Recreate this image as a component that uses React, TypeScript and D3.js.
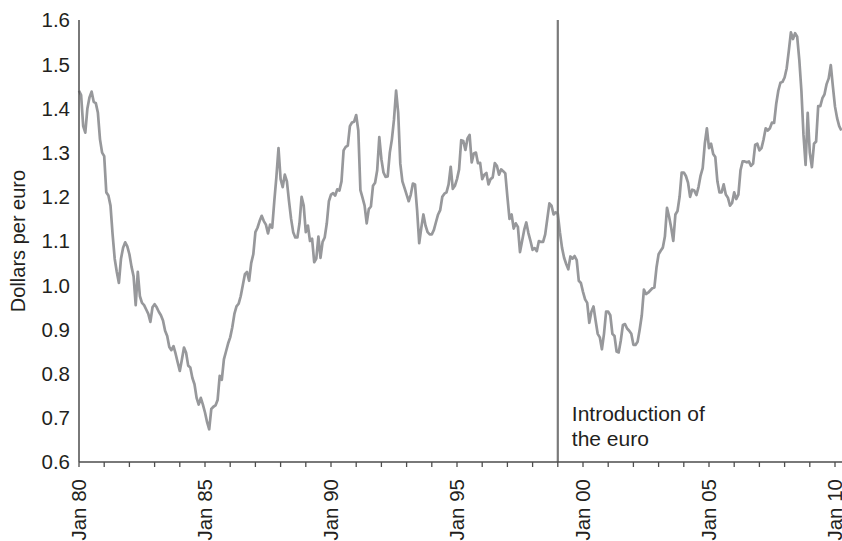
import React from "react";
import * as d3 from "d3";

const START_YEAR = 1980;

const rate1980s = [
  1.44, 1.43, 1.36, 1.345, 1.40, 1.425, 1.438, 1.415, 1.412, 1.39, 1.33, 1.30,
  1.292, 1.21, 1.203, 1.18, 1.115, 1.06, 1.03, 1.005, 1.06, 1.085, 1.097, 1.088,
  1.07, 1.042, 1.02, 0.955, 1.03, 0.975, 0.96, 0.955, 0.945, 0.935, 0.917, 0.95,
  0.957, 0.95, 0.94, 0.932, 0.92, 0.897, 0.885, 0.86, 0.853, 0.862, 0.845, 0.825,
  0.806, 0.832, 0.859, 0.847, 0.818, 0.814, 0.79, 0.776, 0.745, 0.73, 0.745, 0.73,
  0.712, 0.69, 0.674, 0.72, 0.725, 0.728, 0.74, 0.795, 0.786, 0.832, 0.85, 0.868,
  0.882, 0.905, 0.935, 0.952, 0.958, 0.975, 1.0, 1.025, 1.03, 1.01, 1.05, 1.07,
  1.12, 1.13, 1.145, 1.157, 1.145, 1.137, 1.117, 1.137, 1.13, 1.19, 1.245, 1.31,
  1.24, 1.222, 1.25, 1.235, 1.19, 1.15, 1.12, 1.108, 1.108, 1.14, 1.2, 1.18,
  1.12, 1.135, 1.1, 1.105, 1.052, 1.06, 1.11, 1.062, 1.098, 1.108, 1.14, 1.19,
];

const rate1990s = [
  1.205, 1.208, 1.203, 1.217, 1.214, 1.235, 1.305, 1.313, 1.316, 1.36, 1.368, 1.37,
  1.385, 1.35, 1.215, 1.198, 1.18, 1.14, 1.172, 1.178, 1.225, 1.232, 1.26, 1.335,
  1.285, 1.255, 1.245, 1.246, 1.3, 1.33, 1.375, 1.44, 1.39, 1.275, 1.235, 1.22,
  1.205, 1.19, 1.205, 1.23, 1.228, 1.17, 1.095, 1.13, 1.16, 1.135, 1.12, 1.115,
  1.115, 1.125, 1.143, 1.16, 1.17, 1.2, 1.207, 1.21, 1.228, 1.268, 1.218, 1.225,
  1.24, 1.262, 1.328, 1.326, 1.306, 1.332, 1.34, 1.278, 1.298, 1.3, 1.276, 1.277,
  1.24, 1.25, 1.254, 1.228, 1.24, 1.244, 1.276, 1.27, 1.25, 1.262, 1.258, 1.253,
  1.2, 1.15, 1.16, 1.128, 1.14, 1.132, 1.075, 1.1, 1.125, 1.142, 1.118, 1.1,
  1.08, 1.084, 1.077, 1.1, 1.098, 1.098, 1.115, 1.15, 1.185, 1.18, 1.16, 1.165,
  1.162, 1.12, 1.085, 1.062, 1.048, 1.036, 1.065, 1.06, 1.066, 1.057, 1.01, 1.005,
];

const rate2000s = [
  0.985, 0.968, 0.96, 0.915, 0.94, 0.952, 0.92, 0.89, 0.882, 0.855, 0.89, 0.94,
  0.94, 0.932, 0.89, 0.885, 0.85, 0.848, 0.875, 0.91, 0.912, 0.902, 0.897, 0.89,
  0.865, 0.865, 0.872, 0.9, 0.932, 0.99, 0.98, 0.983, 0.988, 0.993, 0.995, 1.04,
  1.07, 1.078, 1.085, 1.11, 1.175, 1.155, 1.13, 1.1, 1.16, 1.168, 1.2, 1.255,
  1.255, 1.247, 1.232, 1.2, 1.216, 1.214, 1.204, 1.222, 1.248, 1.265, 1.32, 1.355,
  1.31, 1.32, 1.297, 1.29, 1.235, 1.21, 1.21, 1.228, 1.205, 1.198, 1.18, 1.186,
  1.21, 1.195, 1.205, 1.26, 1.28, 1.28, 1.278, 1.28, 1.27, 1.275, 1.318, 1.32,
  1.305, 1.31, 1.33, 1.355, 1.35, 1.355, 1.368, 1.367, 1.41, 1.44, 1.458, 1.46,
  1.47, 1.491, 1.53, 1.572, 1.557, 1.57, 1.562, 1.51, 1.44, 1.34, 1.272, 1.39,
  1.30, 1.267, 1.32, 1.325, 1.405, 1.405, 1.423, 1.432, 1.455, 1.468, 1.498, 1.449,
];

const rate2010s = [1.404, 1.378, 1.36, 1.35];

const yTicks = [0.6, 0.7, 0.8, 0.9, 1.0, 1.1, 1.2, 1.3, 1.4, 1.5, 1.6];
const xLabelYears = [1980, 1985, 1990, 1995, 2000, 2005, 2010];
const xTickYears = d3.range(1980, 2011);
const euroYear = 1999;
const yAxisTitle = "Dollars per euro";
const annotationLines = ["Introduction of", "the euro"];

const W = 842;
const H = 541;
const M = { left: 79, top: 20, bottom: 462 };

export default function App() {
  const values = [...rate1980s, ...rate1990s, ...rate2000s, ...rate2010s];
  const data = values.map((v, i) => ({ t: START_YEAR + i / 12, v }));

  const x = d3.scaleLinear().domain([1980, 2010]).range([M.left, 835]);
  const y = d3.scaleLinear().domain([0.6, 1.6]).range([M.bottom, M.top]);

  const line = d3
    .line<{ t: number; v: number }>()
    .x((d) => x(d.t))
    .y((d) => y(d.v));

  const font = "'Liberation Sans', Arial, Helvetica, sans-serif";
  const axisColor = "#4d4d4d";
  const textColor = "#231f20";

  return (
    <svg
      width={W}
      height={H}
      style={{ position: "absolute", left: 0, top: 0, background: "#fff" }}
      fontFamily={font}
    >
      {/* series */}
      <path d={line(data) || ""} fill="none" stroke="#97989b" strokeWidth={2.7} strokeLinejoin="round" />

      {/* euro introduction line */}
      <line x1={x(euroYear)} x2={x(euroYear)} y1={M.top} y2={M.bottom} stroke="#7a7a7a" strokeWidth={2.2} />
      {annotationLines.map((t, i) => (
        <text key={t} x={x(euroYear) + 14} y={421 + i * 25} fontSize={21} fill={textColor}>
          {t}
        </text>
      ))}

      {/* y axis */}
      <line x1={M.left} x2={M.left} y1={M.top} y2={M.bottom} stroke={axisColor} strokeWidth={1.5} />
      {yTicks.map((t) => (
        <text key={t} x={70} y={y(t)} dy="0.36em" textAnchor="end" fontSize={20.5} fill={textColor}>
          {t.toFixed(1)}
        </text>
      ))}
      <text
        transform={`translate(25, ${(M.top + M.bottom) / 2}) rotate(-90)`}
        textAnchor="middle"
        fontSize={20}
        fill={textColor}
      >
        {yAxisTitle}
      </text>

      {/* x axis */}
      <line x1={M.left} x2={W} y1={M.bottom} y2={M.bottom} stroke={axisColor} strokeWidth={1.5} />
      {xTickYears.map((yr) => (
        <line key={yr} x1={x(yr)} x2={x(yr)} y1={M.bottom} y2={M.bottom + 5} stroke={axisColor} strokeWidth={1.3} />
      ))}
      {xLabelYears.map((yr) => (
        <text
          key={yr}
          transform={`translate(${x(yr)}, 479) rotate(-90)`}
          textAnchor="end"
          dy="0.35em"
          fontSize={20.5}
          fill={textColor}
        >
          {"Jan " + String(yr % 100).padStart(2, "0")}
        </text>
      ))}
    </svg>
  );
}
